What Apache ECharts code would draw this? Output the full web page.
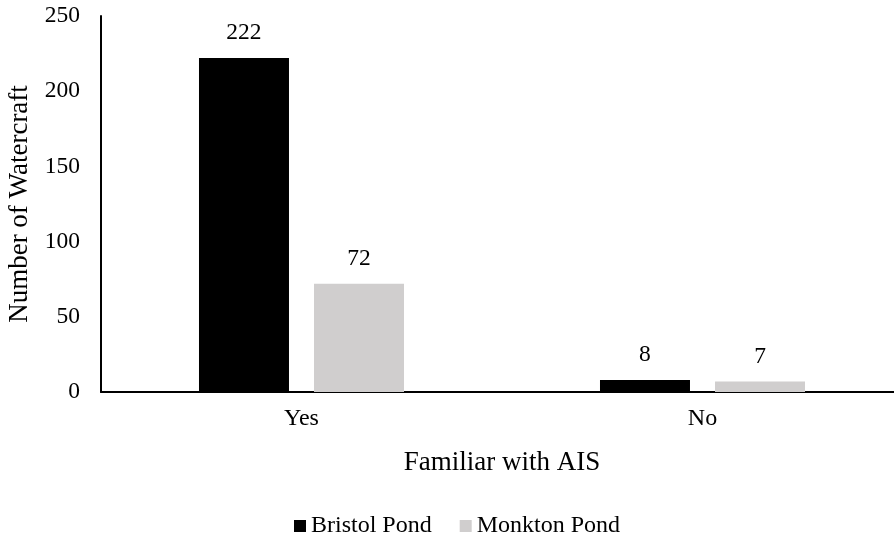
<!DOCTYPE html>
<html>
<head>
<meta charset="utf-8">
<script src="https://cdn.jsdelivr.net/npm/echarts@6/dist/echarts.min.js"></script>
<style>
  html, body { margin: 0; padding: 0; background: #fff; }
  #chart { width: 894px; height: 540px; }
</style>
</head>
<body>
<div id="chart"></div>
<script>
const categories = ['Yes', 'No']
const bristolPond = [222, 8]
const monktonPond = [72, 7]
const yTicks = [0, 50, 100, 150, 200, 250]

const font = '"Liberation Serif", "Times New Roman", serif'
const chart = echarts.init(document.getElementById('chart'))

chart.setOption({
  animation: false,
  textStyle: { fontFamily: font },
  color: ['#000000', '#d0cece'],
  legend: {
    data: ['Bristol Pond', 'Monkton Pond'],
    top: 509,
    left: 289,
    icon: 'rect',
    itemWidth: 12,
    itemHeight: 12,
    itemGap: 28,
    textStyle: { fontFamily: font, fontSize: 24, color: '#000' },
  },
  grid: { left: 101, top: 16, width: 802, height: 376, outerBoundsMode: 'none', containLabel: false },
  xAxis: {
    type: 'category',
    data: categories,
    name: 'Familiar with AIS',
    nameLocation: 'middle',
    nameGap: 57,
    nameTextStyle: { fontFamily: font, fontSize: 27, color: '#000' },
    axisLine: { lineStyle: { color: '#000', width: 2 } },
    axisTick: { show: false },
    axisLabel: { fontFamily: font, fontSize: 24, color: '#000', margin: 15 },
  },
  yAxis: {
    type: 'value',
    min: yTicks[0],
    max: yTicks[yTicks.length - 1],
    interval: 50,
    name: 'Number of Watercraft',
    nameLocation: 'middle',
    nameGap: 62,
    nameTextStyle: { fontFamily: font, fontSize: 27, color: '#000' },
    axisLine: { show: true, lineStyle: { color: '#000', width: 2 } },
    axisTick: { show: false },
    splitLine: { show: false },
    axisLabel: { fontFamily: font, fontSize: 23.5, color: '#000', margin: 21 },
  },
  series: [
    {
      name: 'Bristol Pond',
      type: 'bar',
      barWidth: 90,
      barGap: '27.8%',
      data: bristolPond,
      label: { show: true, position: 'top', distance: 13, fontFamily: font, fontSize: 23.5, color: '#000' },
    },
    {
      name: 'Monkton Pond',
      type: 'bar',
      barWidth: 90,
      data: monktonPond,
      label: { show: true, position: 'top', distance: 13, fontFamily: font, fontSize: 23.5, color: '#000' },
    },
  ],
})
</script>
</body>
</html>
